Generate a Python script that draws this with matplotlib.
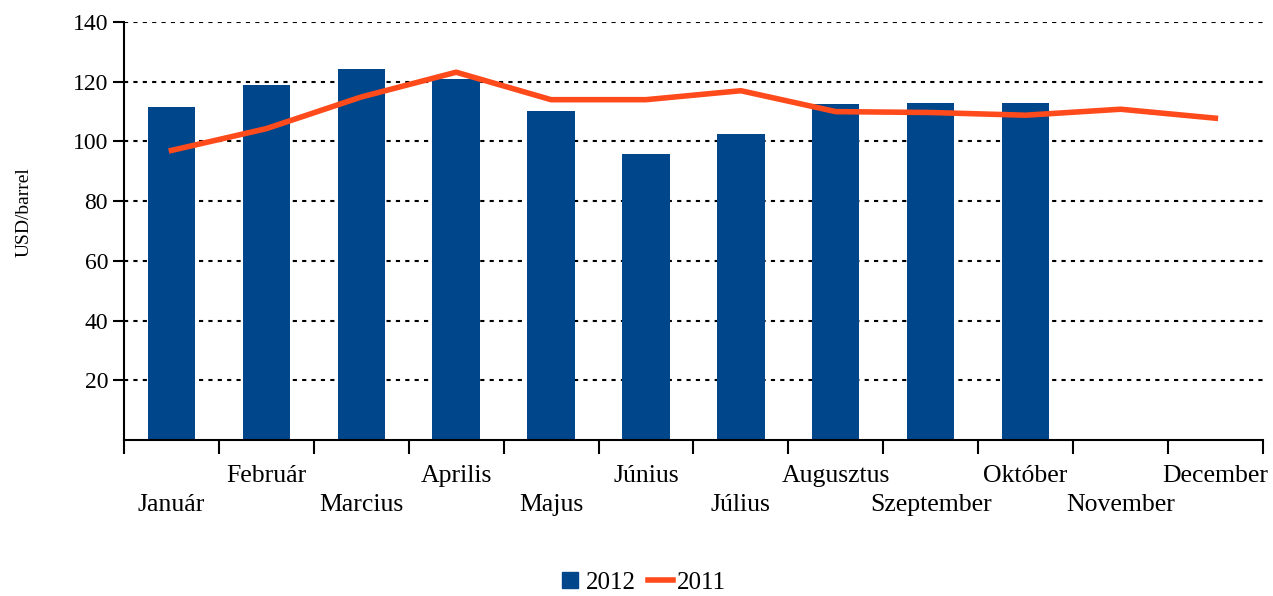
import matplotlib.pyplot as plt
from matplotlib.lines import Line2D
import numpy as np

plt.rcParams['font.family'] = ['Liberation Serif', 'DejaVu Serif']

months = ['Január', 'Február', 'Marcius', 'Aprilis', 'Majus', 'Június',
          'Július', 'Augusztus', 'Szeptember', 'Október', 'November', 'December']
values_2012 = [111.5, 118.8, 124.2, 121.0, 110.2, 95.8, 102.6, 112.5, 112.9, 112.9]
values_2011 = [97.0, 104.3, 114.9, 123.2, 114.0, 114.0, 117.0, 110.0, 109.7, 108.8, 110.8, 107.8]

bar_color = '#00468B'
line_color = '#FF4A1C'

fig = plt.figure(figsize=(12.73, 5.96), dpi=100)
ax = fig.add_axes([0.0974, 0.2617, 0.8946, 0.7013])

x12 = np.arange(len(values_2012))
x11 = np.arange(len(values_2011))
ax.bar(x12, values_2012, width=0.5, color=bar_color, label='2012', zorder=2)
line, = ax.plot(x11, values_2011, color=line_color, lw=4, label='2011', zorder=3)

ax.set_xlim(-0.5, len(months) - 0.5)
ax.set_ylim(0, 140)
ax.set_yticks(np.arange(20, 141, 20))
ax.tick_params(axis='y', labelsize=17, length=8, width=1.5, direction='out')
ax.yaxis.grid(True, color='black', linestyle=(0, (2, 2.5)), lw=1.5)
ax.set_axisbelow(True)

# category boundary ticks, labels drawn separately (staggered)
ax.set_xticks(np.arange(-0.5, len(months), 1))
ax.set_xticklabels([])
ax.tick_params(axis='x', length=10, width=1.5, direction='out')
for i, m in enumerate(months):
    y = -0.155 if i % 2 == 0 else -0.085
    ax.text(i, y, m, transform=ax.get_xaxis_transform(), ha='center',
            va='center', fontsize=18.5)

for s in ['top', 'right']:
    ax.spines[s].set_visible(False)
ax.spines['left'].set_linewidth(1.5)
ax.spines['bottom'].set_linewidth(1.5)

ax.set_ylabel('USD/barrel', fontsize=14)
ax.yaxis.set_label_coords(-0.08, 0.545)

bar_handle = Line2D([], [], marker='s', markersize=11.5, color=bar_color,
                    linestyle='none')
fig.legend([bar_handle, line], ['2012', '2011'], loc='center',
           bbox_to_anchor=(0.504, 0.022), ncol=2, frameon=False,
           fontsize=18, handlelength=1.0, handletextpad=0.15,
           columnspacing=0.48)

fig.savefig('out.png', dpi=100)
